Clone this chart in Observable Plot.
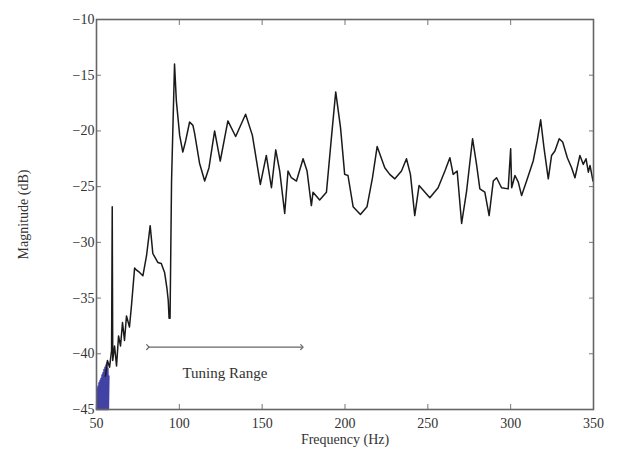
<!DOCTYPE html>
<html><head><meta charset="utf-8">
<script src="https://cdn.jsdelivr.net/npm/d3@7"></script>
<script src="https://cdn.jsdelivr.net/npm/@observablehq/plot@0.6"></script>
<style>body{margin:0;background:#fff}</style>
</head><body><div id="chart"></div>
<script>
// Measured response (black)
const freq = [55.4,56.6,57.9,59.1,59.5,59.8,60.9,62.1,63.3,64.5,65.7,66.9,68.1,69.9,71.1,73.0,74.2,76.0,78.0,80.2,82.4,84.0,87.0,89.1,91.1,92.5,93.3,93.8,94.4,95.3,97.1,
  98.2,100.2,102.1,103.8,106.2,108.2,109.2,112.2,115.3,117.9,121.3,124.7,129.3,134.0,140.0,144.1,148.9,152.5,155.6,158.2,160.6,163.6,165.6,167.6,170.7,174.7,177.1,179.7,180.7,184.7,188.8,191.8,194.4,197.3,199.8,201.8,204.9,209.3,213.3,216.6,219.4,224.0,227.0,230.1,234.1,237.1,239.5,242.1,244.7,251.2,256.2,260.3,263.3,265.3,267.7,270.4,273.4,277.0,279.4,281.4,284.4,287.0,289.5,291.5,294.5,298.5,300.0,300.6,302.6,304.6,306.6,309.6,313.6,316.0,318.1,320.1,322.7,324.7,326.7,329.3,331.4,334.2,336.8,338.8,341.8,343.8,345.5,346.9,347.9,349.7];
const magnitude = [-42.0,-40.6,-41.2,-39.7,-26.8,-40.6,-39.3,-41.1,-38.4,-39.3,-37.2,-38.8,-36.6,-37.6,-35.7,-32.3,-32.5,-32.7,-33.0,-31.2,-28.5,-31.0,-31.8,-31.9,-32.7,-34.1,-35.2,-36.8,-36.8,-24.5,-14.0,
  -17.3,-20.4,-21.9,-20.9,-19.2,-19.5,-20.2,-22.9,-24.5,-23.3,-20.0,-22.7,-19.1,-20.5,-18.5,-20.4,-24.8,-22.2,-25.1,-21.7,-23.6,-27.4,-23.6,-24.2,-24.5,-22.5,-23.6,-26.7,-25.5,-26.2,-25.5,-20.6,-16.5,-19.7,-23.9,-24.0,-26.8,-27.5,-26.8,-24.2,-21.4,-23.3,-23.9,-24.3,-23.6,-22.5,-23.9,-27.6,-24.9,-26.0,-25.1,-23.6,-22.4,-23.9,-23.6,-28.3,-25.4,-20.7,-23.0,-25.2,-25.5,-27.6,-24.5,-24.2,-25.1,-25.2,-21.6,-25.1,-24.0,-24.6,-25.8,-24.5,-22.7,-20.9,-19.0,-21.5,-24.3,-22.2,-21.8,-20.7,-21.0,-22.4,-23.3,-24.2,-22.2,-23.0,-22.5,-23.7,-23.1,-24.5];
// Low-frequency dense response (blue)
const blueFreq = [50.0,50.3,50.6,50.9,51.2,51.5,51.8,52.1,52.4,52.7,53.0,53.3,53.6,53.9,54.2,54.5,54.8,55.1,55.4,55.7,56.0,56.3,56.6,56.9,57.2,57.5];
const blueMag = [-45,-43.1,-45,-42.9,-45,-42.6,-45,-42.4,-45,-42.2,-45,-41.9,-45,-41.7,-45,-41.4,-45,-41.2,-45,-41.0,-45,-40.8,-45,-41.3,-45,-42.0];
const xTicks = [50,100,150,200,250,300,350];
const yTicks = [-45,-40,-35,-30,-25,-20,-15,-10];
const rangeStart = 81, rangeEnd = 174, rangeLevel = -39.4, rangeTextLevel = -41.7;
const rangeLabel = "Tuning Range";

const curve = freq.map((f, i) => ({f, m: magnitude[i]}));
const blue = blueFreq.map((f, i) => ({f, m: blueMag[i]}));
const tickStroke = "#777";

const chart = Plot.plot({
  width: 618, height: 450,
  marginLeft: 96, marginRight: 25, marginTop: 19, marginBottom: 41,
  style: {fontFamily: "'Liberation Serif', serif", fontSize: "14px", color: "#333", background: "#fff"},
  x: {domain: [50, 350]},
  y: {domain: [-45, -10]},
  marks: [
    Plot.line(blue, {x: "f", y: "m", stroke: "#2e2e9a", strokeWidth: 1.4, strokeOpacity: 0.9}),
    Plot.line(curve, {x: "f", y: "m", stroke: "#1a1a1a", strokeWidth: 1.5}),
    Plot.link([{a: rangeStart, b: rangeEnd, y: rangeLevel}], {x1: "a", x2: "b", y1: "y", y2: "y", stroke: "#666", strokeWidth: 1.2, markerStart: "arrow", markerEnd: "arrow"}),
    Plot.text([rangeLabel], {x: (rangeStart + rangeEnd) / 2, y: rangeTextLevel, text: d => d, fontSize: 15, fill: "#333"}),
    Plot.axisX(xTicks, {anchor: "bottom", tickSize: 0, tickPadding: 9, label: "Frequency (Hz)", labelAnchor: "center", labelArrow: "none", labelOffset: 34}),
    Plot.axisX(xTicks, {anchor: "bottom", tickSize: 5, dy: -5, tickFormat: () => "", label: null, stroke: tickStroke}),
    Plot.axisX(xTicks, {anchor: "top", tickSize: 5, dy: 5, tickFormat: () => "", label: null, stroke: tickStroke}),
    Plot.axisY(yTicks, {anchor: "left", tickSize: 0, tickPadding: 2, label: "Magnitude (dB)", labelAnchor: "center", labelArrow: "none", labelOffset: 78}),
    Plot.axisY(yTicks, {anchor: "left", tickSize: 5, dx: 5, tickFormat: () => "", label: null, stroke: tickStroke}),
    Plot.axisY(yTicks, {anchor: "right", tickSize: 5, dx: -5, tickFormat: () => "", label: null, stroke: tickStroke}),
    Plot.frame({stroke: "#666", strokeWidth: 1.6})
  ]
});
document.getElementById("chart").append(chart);
</script>
</body></html>
